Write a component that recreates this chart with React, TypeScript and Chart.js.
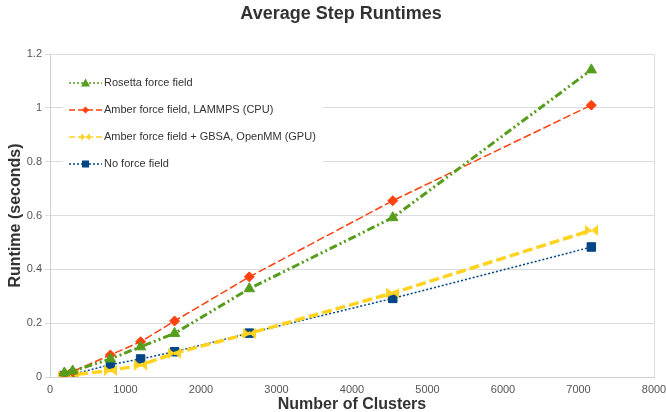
import React, { useEffect, useRef } from "react";
import { Chart, registerables } from "chart.js";

Chart.register(...registerables);

const clusters = [190, 300, 800, 1200, 1650, 2640, 4540, 7170];
const rosetta = [0.015, 0.022, 0.067, 0.112, 0.162, 0.328, 0.592, 1.141];
const amberCpu = [0.012, 0.02, 0.082, 0.131, 0.208, 0.372, 0.655, 1.01];
const amberGpu = [0.003, 0.008, 0.024, 0.044, 0.088, 0.162, 0.312, 0.545];
const noForce = [0.005, 0.01, 0.046, 0.067, 0.094, 0.163, 0.292, 0.483];

const seriesLabels = [
  "Rosetta force field",
  "Amber force field, LAMMPS (CPU)",
  "Amber force field + GBSA, OpenMM (GPU)",
  "No force field",
];
const seriesColors = ["#579d1c", "#ff420e", "#ffd320", "#004586"];

const xMin = 0;
const xMax = 8000;
const xStep = 1000;
const yMin = 0;
const yMax = 1.2;
const yStep = 0.2;

const titleText = "Average Step Runtimes";
const xTitle = "Number of Clusters";
const yTitle = "Runtime (seconds)";

const FONT = "'Liberation Sans', Arial, sans-serif";

function makeBowtie(w: number, h: number, color: string) {
  const c = document.createElement("canvas");
  c.width = w;
  c.height = h;
  const g = c.getContext("2d")!;
  g.fillStyle = color;
  g.beginPath();
  g.moveTo(0, 0);
  g.lineTo(w / 2, h / 2);
  g.lineTo(0, h);
  g.closePath();
  g.fill();
  g.beginPath();
  g.moveTo(w, 0);
  g.lineTo(w / 2, h / 2);
  g.lineTo(w, h);
  g.closePath();
  g.fill();
  return c;
}

function drawMarker(ctx: CanvasRenderingContext2D, kind: number, x: number, y: number, color: string) {
  ctx.fillStyle = color;
  ctx.beginPath();
  if (kind === 0) {
    ctx.moveTo(x, y - 4.5);
    ctx.lineTo(x + 4.5, y + 3.5);
    ctx.lineTo(x - 4.5, y + 3.5);
    ctx.closePath();
    ctx.fill();
  } else if (kind === 1) {
    ctx.moveTo(x, y - 3.5);
    ctx.lineTo(x + 3.5, y);
    ctx.lineTo(x, y + 3.5);
    ctx.lineTo(x - 3.5, y);
    ctx.closePath();
    ctx.fill();
  } else if (kind === 2) {
    ctx.moveTo(x - 4.5, y - 3.5);
    ctx.lineTo(x, y);
    ctx.lineTo(x - 4.5, y + 3.5);
    ctx.closePath();
    ctx.fill();
    ctx.beginPath();
    ctx.moveTo(x + 4.5, y - 3.5);
    ctx.lineTo(x, y);
    ctx.lineTo(x + 4.5, y + 3.5);
    ctx.closePath();
    ctx.fill();
  } else {
    ctx.fillRect(x - 3.5, y - 3.5, 7, 7);
  }
}

const legendDashes = [[2, 2], [6, 3], [6, 3], [2, 2]];

const titleAndLegend = {
  id: "titleAndLegend",
  afterDraw(chart: any) {
    const ctx = chart.ctx as CanvasRenderingContext2D;
    const ca = chart.chartArea;
    ctx.save();
    // title
    ctx.fillStyle = "#333333";
    ctx.font = `bold 18px ${FONT}`;
    ctx.textAlign = "center";
    ctx.textBaseline = "middle";
    ctx.fillText(titleText, 341, 14);
    // legend
    const bx = ca.left + 13;
    const by = ca.top + 6;
    ctx.fillStyle = "#ffffff";
    ctx.fillRect(bx, by, 260, 120);
    seriesLabels.forEach((label, i) => {
      const y = by + 23 + i * 27;
      const color = seriesColors[i];
      ctx.strokeStyle = color;
      ctx.lineWidth = 1.3;
      ctx.setLineDash(legendDashes[i]);
      ctx.beginPath();
      ctx.moveTo(bx + 6, y);
      ctx.lineTo(bx + 39, y);
      ctx.stroke();
      ctx.setLineDash([]);
      drawMarker(ctx, i, bx + 22.5, y, color);
      ctx.fillStyle = "#333333";
      ctx.font = `11px ${FONT}`;
      ctx.textAlign = "left";
      ctx.textBaseline = "middle";
      ctx.fillText(label, bx + 41, y);
    });
    ctx.restore();
  },
};

export default function App() {
  const ref = useRef<HTMLCanvasElement | null>(null);

  useEffect(() => {
    document.body.style.margin = "0";
    const canvas = ref.current!;
    const bowtie = makeBowtie(13, 11, seriesColors[2]);
    const pts = (ys: number[]) => clusters.map((x, i) => ({ x, y: ys[i] }));

    const chart = new Chart(canvas, {
      type: "line",
      data: {
        datasets: [
          {
            label: seriesLabels[0],
            data: pts(rosetta),
            borderColor: seriesColors[0],
            backgroundColor: seriesColors[0],
            borderWidth: 3,
            borderDash: [8, 3, 2, 3, 2, 3],
            pointStyle: "triangle",
            pointRadius: 6,
            pointBorderWidth: 1,
            fill: false,
            tension: 0,
          },
          {
            label: seriesLabels[1],
            data: pts(amberCpu),
            borderColor: seriesColors[1],
            backgroundColor: seriesColors[1],
            borderWidth: 1.5,
            borderDash: [8, 3],
            pointStyle: "rectRot",
            pointRadius: 5,
            pointBorderWidth: 1,
            fill: false,
            tension: 0,
          },
          {
            label: seriesLabels[2],
            data: pts(amberGpu),
            borderColor: seriesColors[2],
            backgroundColor: seriesColors[2],
            borderWidth: 3.5,
            borderDash: [10, 4],
            pointStyle: bowtie as any,
            pointRadius: 6,
            fill: false,
            tension: 0,
          },
          {
            label: seriesLabels[3],
            data: pts(noForce),
            borderColor: seriesColors[3],
            backgroundColor: seriesColors[3],
            borderWidth: 1.5,
            borderDash: [2, 2],
            pointStyle: "rect",
            pointRadius: 6,
            pointBorderWidth: 1,
            fill: false,
            tension: 0,
          },
        ],
      },
      options: {
        responsive: false,
        animation: false,
        devicePixelRatio: 1,
        layout: { padding: { left: 0, right: 12, top: 54, bottom: 0 } },
        plugins: {
          legend: { display: false },
          tooltip: { enabled: false },
          title: { display: false },
        },
        scales: {
          x: {
            type: "linear",
            min: xMin,
            max: xMax,
            ticks: {
              stepSize: xStep,
              callback: (v: any) => String(v),
              color: "#555555",
              font: { size: 11, family: FONT },
              padding: 6,
              maxRotation: 0,
              autoSkip: false,
            },
            grid: {
              drawTicks: false,
              color: (c: any) => (c.tick && c.tick.value === xMax ? "#dcdcdc" : "rgba(0,0,0,0)"),
            },
            border: { color: "#d0d0d0" },
            title: {
              display: true,
              text: xTitle,
              color: "#333333",
              font: { size: 16, weight: "bold", family: FONT, lineHeight: 0.9 },
              padding: { top: 0, bottom: 0 },
            },
            afterFit: (s: any) => {
              s.height = 35;
              s.paddingLeft = 0;
              s.paddingRight = 0;
            },
          } as any,
          y: {
            min: yMin,
            max: yMax,
            ticks: {
              stepSize: yStep,
              callback: (v: any) => String(Math.round(Number(v) * 10) / 10),
              color: "#555555",
              font: { size: 11, family: FONT },
              padding: 3,
            },
            grid: { color: "#dcdcdc", tickLength: 5 },
            border: { color: "#d0d0d0" },
            title: {
              display: true,
              text: yTitle,
              color: "#333333",
              font: { size: 16, weight: "bold", family: FONT, lineHeight: 1.2 },
              padding: { top: 6, bottom: 0 },
            },
            afterFit: (s: any) => {
              s.width = 50;
              s.paddingTop = 0;
              s.paddingBottom = 0;
            },
          } as any,
        },
      },
      plugins: [titleAndLegend],
    });
    return () => chart.destroy();
  }, []);

  return (
    <div style={{ position: "absolute", left: 0, top: 0, width: 666, height: 412, background: "#fff" }}>
      <canvas ref={ref} width={666} height={412} />
    </div>
  );
}
